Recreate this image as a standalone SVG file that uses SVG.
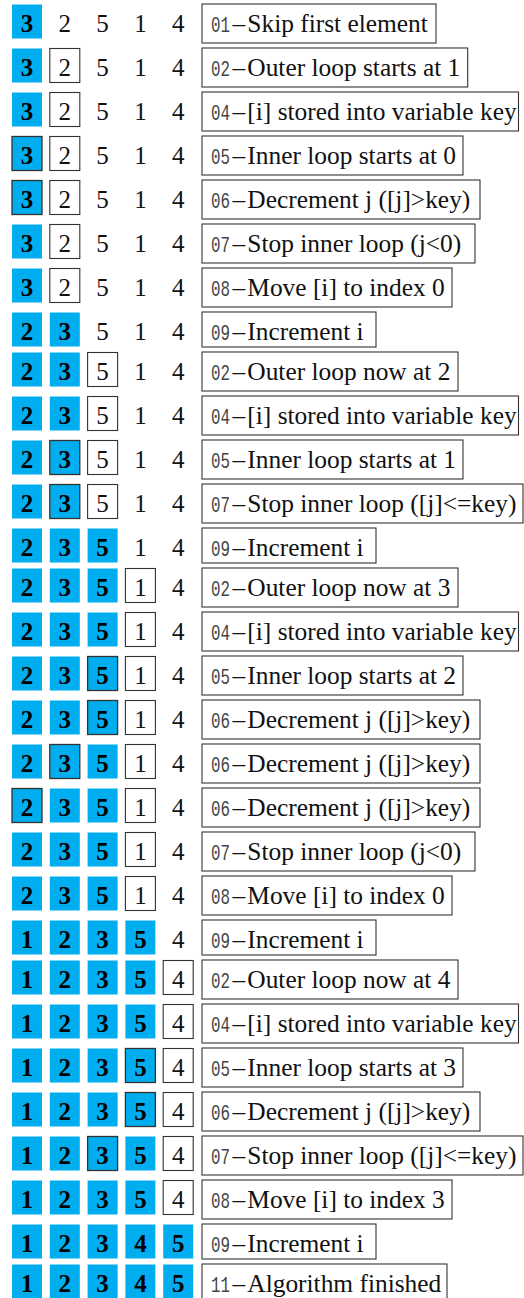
<svg xmlns="http://www.w3.org/2000/svg" width="524" height="1298" viewBox="0 0 524 1298">
  <style>
    .b { fill: #00AEEF; }
    .h { fill: #00AEEF; stroke: #333; stroke-width: 1.3; }
    .w { fill: #fff; stroke: #333; stroke-width: 1.1; }
    .lb { fill: #fff; stroke: #333; stroke-width: 1.1; }
    .d { font-family: "Liberation Serif", "Times New Roman", serif; font-size: 25px; text-anchor: middle; fill: #111; }
    .db { font-family: "Liberation Serif", "Times New Roman", serif; font-size: 25px; font-weight: bold; text-anchor: middle; fill: #000; }
    .lt { font-family: "Liberation Serif", "Times New Roman", serif; font-size: 25.4px; fill: #111; }
    .code { font-family: "Liberation Mono", "Courier New", monospace; font-size: 22px; fill: #444; }
  </style>
  <rect width="524" height="1298" fill="#fff"/>

  <!-- each row: five array cells, then the step label box -->
  <g id="row01" transform="translate(0,4)">
    <rect class="b" x="12" y="0.5" width="30" height="34"/><text class="db" x="27" y="27.5">3</text>
    <text class="d" x="64.8" y="27.5">2</text>
    <text class="d" x="102.6" y="27.5">5</text>
    <text class="d" x="140.4" y="27.5">1</text>
    <text class="d" x="178.2" y="27.5">4</text>
    <rect class="lb" x="202" y="0" width="234" height="39"/>
    <text class="code" transform="translate(211 28) scale(0.72 1)">01</text>
    <text class="lt" x="232.5" y="28">–&#8202;Skip first element</text>
  </g>

  <g id="row02" transform="translate(0,48)">
    <rect class="b" x="12" y="0.5" width="30" height="34"/><text class="db" x="27" y="27.5">3</text>
    <rect class="w" x="49.8" y="0.5" width="30" height="34"/><text class="d" x="64.8" y="27.5">2</text>
    <text class="d" x="102.6" y="27.5">5</text>
    <text class="d" x="140.4" y="27.5">1</text>
    <text class="d" x="178.2" y="27.5">4</text>
    <rect class="lb" x="202" y="0" width="265.7" height="39"/>
    <text class="code" transform="translate(211 28) scale(0.72 1)">02</text>
    <text class="lt" x="232.5" y="28">–&#8202;Outer loop starts at 1</text>
  </g>

  <g id="row03" transform="translate(0,92)">
    <rect class="b" x="12" y="0.5" width="30" height="34"/><text class="db" x="27" y="27.5">3</text>
    <rect class="w" x="49.8" y="0.5" width="30" height="34"/><text class="d" x="64.8" y="27.5">2</text>
    <text class="d" x="102.6" y="27.5">5</text>
    <text class="d" x="140.4" y="27.5">1</text>
    <text class="d" x="178.2" y="27.5">4</text>
    <rect class="lb" x="202" y="0" width="316.5" height="39"/>
    <text class="code" transform="translate(211 28) scale(0.72 1)">04</text>
    <text class="lt" x="232.5" y="28">–&#8202;[i] stored into variable key</text>
  </g>

  <g id="row04" transform="translate(0,136)">
    <rect class="h" x="12" y="0.5" width="30" height="34"/><text class="db" x="27" y="27.5">3</text>
    <rect class="w" x="49.8" y="0.5" width="30" height="34"/><text class="d" x="64.8" y="27.5">2</text>
    <text class="d" x="102.6" y="27.5">5</text>
    <text class="d" x="140.4" y="27.5">1</text>
    <text class="d" x="178.2" y="27.5">4</text>
    <rect class="lb" x="202" y="0" width="261" height="39"/>
    <text class="code" transform="translate(211 28) scale(0.72 1)">05</text>
    <text class="lt" x="232.5" y="28">–&#8202;Inner loop starts at 0</text>
  </g>

  <g id="row05" transform="translate(0,180)">
    <rect class="h" x="12" y="0.5" width="30" height="34"/><text class="db" x="27" y="27.5">3</text>
    <rect class="w" x="49.8" y="0.5" width="30" height="34"/><text class="d" x="64.8" y="27.5">2</text>
    <text class="d" x="102.6" y="27.5">5</text>
    <text class="d" x="140.4" y="27.5">1</text>
    <text class="d" x="178.2" y="27.5">4</text>
    <rect class="lb" x="202" y="0" width="278" height="39"/>
    <text class="code" transform="translate(211 28) scale(0.72 1)">06</text>
    <text class="lt" x="232.5" y="28">–&#8202;Decrement j ([j]&gt;key)</text>
  </g>

  <g id="row06" transform="translate(0,224)">
    <rect class="b" x="12" y="0.5" width="30" height="34"/><text class="db" x="27" y="27.5">3</text>
    <rect class="w" x="49.8" y="0.5" width="30" height="34"/><text class="d" x="64.8" y="27.5">2</text>
    <text class="d" x="102.6" y="27.5">5</text>
    <text class="d" x="140.4" y="27.5">1</text>
    <text class="d" x="178.2" y="27.5">4</text>
    <rect class="lb" x="202" y="0" width="273" height="39"/>
    <text class="code" transform="translate(211 28) scale(0.72 1)">07</text>
    <text class="lt" x="232.5" y="28">–&#8202;Stop inner loop (j&lt;0)</text>
  </g>

  <g id="row07" transform="translate(0,268)">
    <rect class="b" x="12" y="0.5" width="30" height="34"/><text class="db" x="27" y="27.5">3</text>
    <rect class="w" x="49.8" y="0.5" width="30" height="34"/><text class="d" x="64.8" y="27.5">2</text>
    <text class="d" x="102.6" y="27.5">5</text>
    <text class="d" x="140.4" y="27.5">1</text>
    <text class="d" x="178.2" y="27.5">4</text>
    <rect class="lb" x="202" y="0" width="250" height="39"/>
    <text class="code" transform="translate(211 28) scale(0.72 1)">08</text>
    <text class="lt" x="232.5" y="28">–&#8202;Move [i] to index 0</text>
  </g>

  <g id="row08" transform="translate(0,312)">
    <rect class="b" x="12" y="0.5" width="30" height="34"/><text class="db" x="27" y="27.5">2</text>
    <rect class="b" x="49.8" y="0.5" width="30" height="34"/><text class="db" x="64.8" y="27.5">3</text>
    <text class="d" x="102.6" y="27.5">5</text>
    <text class="d" x="140.4" y="27.5">1</text>
    <text class="d" x="178.2" y="27.5">4</text>
    <rect class="lb" x="202" y="0" width="174" height="35"/>
    <text class="code" transform="translate(211 28) scale(0.72 1)">09</text>
    <text class="lt" x="232.5" y="28">–&#8202;Increment i</text>
  </g>

  <g id="row09" transform="translate(0,352)">
    <rect class="b" x="12" y="0.5" width="30" height="34"/><text class="db" x="27" y="27.5">2</text>
    <rect class="b" x="49.8" y="0.5" width="30" height="34"/><text class="db" x="64.8" y="27.5">3</text>
    <rect class="w" x="87.6" y="0.5" width="30" height="34"/><text class="d" x="102.6" y="27.5">5</text>
    <text class="d" x="140.4" y="27.5">1</text>
    <text class="d" x="178.2" y="27.5">4</text>
    <rect class="lb" x="202" y="0" width="256" height="39"/>
    <text class="code" transform="translate(211 28) scale(0.72 1)">02</text>
    <text class="lt" x="232.5" y="28">–&#8202;Outer loop now at 2</text>
  </g>

  <g id="row10" transform="translate(0,396)">
    <rect class="b" x="12" y="0.5" width="30" height="34"/><text class="db" x="27" y="27.5">2</text>
    <rect class="b" x="49.8" y="0.5" width="30" height="34"/><text class="db" x="64.8" y="27.5">3</text>
    <rect class="w" x="87.6" y="0.5" width="30" height="34"/><text class="d" x="102.6" y="27.5">5</text>
    <text class="d" x="140.4" y="27.5">1</text>
    <text class="d" x="178.2" y="27.5">4</text>
    <rect class="lb" x="202" y="0" width="316.5" height="39"/>
    <text class="code" transform="translate(211 28) scale(0.72 1)">04</text>
    <text class="lt" x="232.5" y="28">–&#8202;[i] stored into variable key</text>
  </g>

  <g id="row11" transform="translate(0,440)">
    <rect class="b" x="12" y="0.5" width="30" height="34"/><text class="db" x="27" y="27.5">2</text>
    <rect class="h" x="49.8" y="0.5" width="30" height="34"/><text class="db" x="64.8" y="27.5">3</text>
    <rect class="w" x="87.6" y="0.5" width="30" height="34"/><text class="d" x="102.6" y="27.5">5</text>
    <text class="d" x="140.4" y="27.5">1</text>
    <text class="d" x="178.2" y="27.5">4</text>
    <rect class="lb" x="202" y="0" width="261" height="39"/>
    <text class="code" transform="translate(211 28) scale(0.72 1)">05</text>
    <text class="lt" x="232.5" y="28">–&#8202;Inner loop starts at 1</text>
  </g>

  <g id="row12" transform="translate(0,484)">
    <rect class="b" x="12" y="0.5" width="30" height="34"/><text class="db" x="27" y="27.5">2</text>
    <rect class="h" x="49.8" y="0.5" width="30" height="34"/><text class="db" x="64.8" y="27.5">3</text>
    <rect class="w" x="87.6" y="0.5" width="30" height="34"/><text class="d" x="102.6" y="27.5">5</text>
    <text class="d" x="140.4" y="27.5">1</text>
    <text class="d" x="178.2" y="27.5">4</text>
    <rect class="lb" x="202" y="0" width="321" height="39"/>
    <text class="code" transform="translate(211 28) scale(0.72 1)">07</text>
    <text class="lt" x="232.5" y="28">–&#8202;Stop inner loop ([j]&lt;=key)</text>
  </g>

  <g id="row13" transform="translate(0,528)">
    <rect class="b" x="12" y="0.5" width="30" height="34"/><text class="db" x="27" y="27.5">2</text>
    <rect class="b" x="49.8" y="0.5" width="30" height="34"/><text class="db" x="64.8" y="27.5">3</text>
    <rect class="b" x="87.6" y="0.5" width="30" height="34"/><text class="db" x="102.6" y="27.5">5</text>
    <text class="d" x="140.4" y="27.5">1</text>
    <text class="d" x="178.2" y="27.5">4</text>
    <rect class="lb" x="202" y="0" width="174" height="35"/>
    <text class="code" transform="translate(211 28) scale(0.72 1)">09</text>
    <text class="lt" x="232.5" y="28">–&#8202;Increment i</text>
  </g>

  <g id="row14" transform="translate(0,568)">
    <rect class="b" x="12" y="0.5" width="30" height="34"/><text class="db" x="27" y="27.5">2</text>
    <rect class="b" x="49.8" y="0.5" width="30" height="34"/><text class="db" x="64.8" y="27.5">3</text>
    <rect class="b" x="87.6" y="0.5" width="30" height="34"/><text class="db" x="102.6" y="27.5">5</text>
    <rect class="w" x="125.4" y="0.5" width="30" height="34"/><text class="d" x="140.4" y="27.5">1</text>
    <text class="d" x="178.2" y="27.5">4</text>
    <rect class="lb" x="202" y="0" width="256" height="39"/>
    <text class="code" transform="translate(211 28) scale(0.72 1)">02</text>
    <text class="lt" x="232.5" y="28">–&#8202;Outer loop now at 3</text>
  </g>

  <g id="row15" transform="translate(0,612)">
    <rect class="b" x="12" y="0.5" width="30" height="34"/><text class="db" x="27" y="27.5">2</text>
    <rect class="b" x="49.8" y="0.5" width="30" height="34"/><text class="db" x="64.8" y="27.5">3</text>
    <rect class="b" x="87.6" y="0.5" width="30" height="34"/><text class="db" x="102.6" y="27.5">5</text>
    <rect class="w" x="125.4" y="0.5" width="30" height="34"/><text class="d" x="140.4" y="27.5">1</text>
    <text class="d" x="178.2" y="27.5">4</text>
    <rect class="lb" x="202" y="0" width="316.5" height="39"/>
    <text class="code" transform="translate(211 28) scale(0.72 1)">04</text>
    <text class="lt" x="232.5" y="28">–&#8202;[i] stored into variable key</text>
  </g>

  <g id="row16" transform="translate(0,656)">
    <rect class="b" x="12" y="0.5" width="30" height="34"/><text class="db" x="27" y="27.5">2</text>
    <rect class="b" x="49.8" y="0.5" width="30" height="34"/><text class="db" x="64.8" y="27.5">3</text>
    <rect class="h" x="87.6" y="0.5" width="30" height="34"/><text class="db" x="102.6" y="27.5">5</text>
    <rect class="w" x="125.4" y="0.5" width="30" height="34"/><text class="d" x="140.4" y="27.5">1</text>
    <text class="d" x="178.2" y="27.5">4</text>
    <rect class="lb" x="202" y="0" width="261" height="39"/>
    <text class="code" transform="translate(211 28) scale(0.72 1)">05</text>
    <text class="lt" x="232.5" y="28">–&#8202;Inner loop starts at 2</text>
  </g>

  <g id="row17" transform="translate(0,700)">
    <rect class="b" x="12" y="0.5" width="30" height="34"/><text class="db" x="27" y="27.5">2</text>
    <rect class="b" x="49.8" y="0.5" width="30" height="34"/><text class="db" x="64.8" y="27.5">3</text>
    <rect class="h" x="87.6" y="0.5" width="30" height="34"/><text class="db" x="102.6" y="27.5">5</text>
    <rect class="w" x="125.4" y="0.5" width="30" height="34"/><text class="d" x="140.4" y="27.5">1</text>
    <text class="d" x="178.2" y="27.5">4</text>
    <rect class="lb" x="202" y="0" width="278" height="39"/>
    <text class="code" transform="translate(211 28) scale(0.72 1)">06</text>
    <text class="lt" x="232.5" y="28">–&#8202;Decrement j ([j]&gt;key)</text>
  </g>

  <g id="row18" transform="translate(0,744)">
    <rect class="b" x="12" y="0.5" width="30" height="34"/><text class="db" x="27" y="27.5">2</text>
    <rect class="h" x="49.8" y="0.5" width="30" height="34"/><text class="db" x="64.8" y="27.5">3</text>
    <rect class="b" x="87.6" y="0.5" width="30" height="34"/><text class="db" x="102.6" y="27.5">5</text>
    <rect class="w" x="125.4" y="0.5" width="30" height="34"/><text class="d" x="140.4" y="27.5">1</text>
    <text class="d" x="178.2" y="27.5">4</text>
    <rect class="lb" x="202" y="0" width="278" height="39"/>
    <text class="code" transform="translate(211 28) scale(0.72 1)">06</text>
    <text class="lt" x="232.5" y="28">–&#8202;Decrement j ([j]&gt;key)</text>
  </g>

  <g id="row19" transform="translate(0,788)">
    <rect class="h" x="12" y="0.5" width="30" height="34"/><text class="db" x="27" y="27.5">2</text>
    <rect class="b" x="49.8" y="0.5" width="30" height="34"/><text class="db" x="64.8" y="27.5">3</text>
    <rect class="b" x="87.6" y="0.5" width="30" height="34"/><text class="db" x="102.6" y="27.5">5</text>
    <rect class="w" x="125.4" y="0.5" width="30" height="34"/><text class="d" x="140.4" y="27.5">1</text>
    <text class="d" x="178.2" y="27.5">4</text>
    <rect class="lb" x="202" y="0" width="278" height="39"/>
    <text class="code" transform="translate(211 28) scale(0.72 1)">06</text>
    <text class="lt" x="232.5" y="28">–&#8202;Decrement j ([j]&gt;key)</text>
  </g>

  <g id="row20" transform="translate(0,832)">
    <rect class="b" x="12" y="0.5" width="30" height="34"/><text class="db" x="27" y="27.5">2</text>
    <rect class="b" x="49.8" y="0.5" width="30" height="34"/><text class="db" x="64.8" y="27.5">3</text>
    <rect class="b" x="87.6" y="0.5" width="30" height="34"/><text class="db" x="102.6" y="27.5">5</text>
    <rect class="w" x="125.4" y="0.5" width="30" height="34"/><text class="d" x="140.4" y="27.5">1</text>
    <text class="d" x="178.2" y="27.5">4</text>
    <rect class="lb" x="202" y="0" width="273" height="39"/>
    <text class="code" transform="translate(211 28) scale(0.72 1)">07</text>
    <text class="lt" x="232.5" y="28">–&#8202;Stop inner loop (j&lt;0)</text>
  </g>

  <g id="row21" transform="translate(0,876)">
    <rect class="b" x="12" y="0.5" width="30" height="34"/><text class="db" x="27" y="27.5">2</text>
    <rect class="b" x="49.8" y="0.5" width="30" height="34"/><text class="db" x="64.8" y="27.5">3</text>
    <rect class="b" x="87.6" y="0.5" width="30" height="34"/><text class="db" x="102.6" y="27.5">5</text>
    <rect class="w" x="125.4" y="0.5" width="30" height="34"/><text class="d" x="140.4" y="27.5">1</text>
    <text class="d" x="178.2" y="27.5">4</text>
    <rect class="lb" x="202" y="0" width="250" height="39"/>
    <text class="code" transform="translate(211 28) scale(0.72 1)">08</text>
    <text class="lt" x="232.5" y="28">–&#8202;Move [i] to index 0</text>
  </g>

  <g id="row22" transform="translate(0,920)">
    <rect class="b" x="12" y="0.5" width="30" height="34"/><text class="db" x="27" y="27.5">1</text>
    <rect class="b" x="49.8" y="0.5" width="30" height="34"/><text class="db" x="64.8" y="27.5">2</text>
    <rect class="b" x="87.6" y="0.5" width="30" height="34"/><text class="db" x="102.6" y="27.5">3</text>
    <rect class="b" x="125.4" y="0.5" width="30" height="34"/><text class="db" x="140.4" y="27.5">5</text>
    <text class="d" x="178.2" y="27.5">4</text>
    <rect class="lb" x="202" y="0" width="174" height="35"/>
    <text class="code" transform="translate(211 28) scale(0.72 1)">09</text>
    <text class="lt" x="232.5" y="28">–&#8202;Increment i</text>
  </g>

  <g id="row23" transform="translate(0,960)">
    <rect class="b" x="12" y="0.5" width="30" height="34"/><text class="db" x="27" y="27.5">1</text>
    <rect class="b" x="49.8" y="0.5" width="30" height="34"/><text class="db" x="64.8" y="27.5">2</text>
    <rect class="b" x="87.6" y="0.5" width="30" height="34"/><text class="db" x="102.6" y="27.5">3</text>
    <rect class="b" x="125.4" y="0.5" width="30" height="34"/><text class="db" x="140.4" y="27.5">5</text>
    <rect class="w" x="163.2" y="0.5" width="30" height="34"/><text class="d" x="178.2" y="27.5">4</text>
    <rect class="lb" x="202" y="0" width="256" height="39"/>
    <text class="code" transform="translate(211 28) scale(0.72 1)">02</text>
    <text class="lt" x="232.5" y="28">–&#8202;Outer loop now at 4</text>
  </g>

  <g id="row24" transform="translate(0,1004)">
    <rect class="b" x="12" y="0.5" width="30" height="34"/><text class="db" x="27" y="27.5">1</text>
    <rect class="b" x="49.8" y="0.5" width="30" height="34"/><text class="db" x="64.8" y="27.5">2</text>
    <rect class="b" x="87.6" y="0.5" width="30" height="34"/><text class="db" x="102.6" y="27.5">3</text>
    <rect class="b" x="125.4" y="0.5" width="30" height="34"/><text class="db" x="140.4" y="27.5">5</text>
    <rect class="w" x="163.2" y="0.5" width="30" height="34"/><text class="d" x="178.2" y="27.5">4</text>
    <rect class="lb" x="202" y="0" width="316.5" height="39"/>
    <text class="code" transform="translate(211 28) scale(0.72 1)">04</text>
    <text class="lt" x="232.5" y="28">–&#8202;[i] stored into variable key</text>
  </g>

  <g id="row25" transform="translate(0,1048)">
    <rect class="b" x="12" y="0.5" width="30" height="34"/><text class="db" x="27" y="27.5">1</text>
    <rect class="b" x="49.8" y="0.5" width="30" height="34"/><text class="db" x="64.8" y="27.5">2</text>
    <rect class="b" x="87.6" y="0.5" width="30" height="34"/><text class="db" x="102.6" y="27.5">3</text>
    <rect class="h" x="125.4" y="0.5" width="30" height="34"/><text class="db" x="140.4" y="27.5">5</text>
    <rect class="w" x="163.2" y="0.5" width="30" height="34"/><text class="d" x="178.2" y="27.5">4</text>
    <rect class="lb" x="202" y="0" width="261" height="39"/>
    <text class="code" transform="translate(211 28) scale(0.72 1)">05</text>
    <text class="lt" x="232.5" y="28">–&#8202;Inner loop starts at 3</text>
  </g>

  <g id="row26" transform="translate(0,1092)">
    <rect class="b" x="12" y="0.5" width="30" height="34"/><text class="db" x="27" y="27.5">1</text>
    <rect class="b" x="49.8" y="0.5" width="30" height="34"/><text class="db" x="64.8" y="27.5">2</text>
    <rect class="b" x="87.6" y="0.5" width="30" height="34"/><text class="db" x="102.6" y="27.5">3</text>
    <rect class="h" x="125.4" y="0.5" width="30" height="34"/><text class="db" x="140.4" y="27.5">5</text>
    <rect class="w" x="163.2" y="0.5" width="30" height="34"/><text class="d" x="178.2" y="27.5">4</text>
    <rect class="lb" x="202" y="0" width="278" height="39"/>
    <text class="code" transform="translate(211 28) scale(0.72 1)">06</text>
    <text class="lt" x="232.5" y="28">–&#8202;Decrement j ([j]&gt;key)</text>
  </g>

  <g id="row27" transform="translate(0,1136)">
    <rect class="b" x="12" y="0.5" width="30" height="34"/><text class="db" x="27" y="27.5">1</text>
    <rect class="b" x="49.8" y="0.5" width="30" height="34"/><text class="db" x="64.8" y="27.5">2</text>
    <rect class="h" x="87.6" y="0.5" width="30" height="34"/><text class="db" x="102.6" y="27.5">3</text>
    <rect class="b" x="125.4" y="0.5" width="30" height="34"/><text class="db" x="140.4" y="27.5">5</text>
    <rect class="w" x="163.2" y="0.5" width="30" height="34"/><text class="d" x="178.2" y="27.5">4</text>
    <rect class="lb" x="202" y="0" width="321" height="39"/>
    <text class="code" transform="translate(211 28) scale(0.72 1)">07</text>
    <text class="lt" x="232.5" y="28">–&#8202;Stop inner loop ([j]&lt;=key)</text>
  </g>

  <g id="row28" transform="translate(0,1180)">
    <rect class="b" x="12" y="0.5" width="30" height="34"/><text class="db" x="27" y="27.5">1</text>
    <rect class="b" x="49.8" y="0.5" width="30" height="34"/><text class="db" x="64.8" y="27.5">2</text>
    <rect class="b" x="87.6" y="0.5" width="30" height="34"/><text class="db" x="102.6" y="27.5">3</text>
    <rect class="b" x="125.4" y="0.5" width="30" height="34"/><text class="db" x="140.4" y="27.5">5</text>
    <rect class="w" x="163.2" y="0.5" width="30" height="34"/><text class="d" x="178.2" y="27.5">4</text>
    <rect class="lb" x="202" y="0" width="250" height="39"/>
    <text class="code" transform="translate(211 28) scale(0.72 1)">08</text>
    <text class="lt" x="232.5" y="28">–&#8202;Move [i] to index 3</text>
  </g>

  <g id="row29" transform="translate(0,1224)">
    <rect class="b" x="12" y="0.5" width="30" height="34"/><text class="db" x="27" y="27.5">1</text>
    <rect class="b" x="49.8" y="0.5" width="30" height="34"/><text class="db" x="64.8" y="27.5">2</text>
    <rect class="b" x="87.6" y="0.5" width="30" height="34"/><text class="db" x="102.6" y="27.5">3</text>
    <rect class="b" x="125.4" y="0.5" width="30" height="34"/><text class="db" x="140.4" y="27.5">4</text>
    <rect class="b" x="163.2" y="0.5" width="30" height="34"/><text class="db" x="178.2" y="27.5">5</text>
    <rect class="lb" x="202" y="0" width="174" height="35"/>
    <text class="code" transform="translate(211 28) scale(0.72 1)">09</text>
    <text class="lt" x="232.5" y="28">–&#8202;Increment i</text>
  </g>

  <g id="row30" transform="translate(0,1264)">
    <rect class="b" x="12" y="0.5" width="30" height="34"/><text class="db" x="27" y="27.5">1</text>
    <rect class="b" x="49.8" y="0.5" width="30" height="34"/><text class="db" x="64.8" y="27.5">2</text>
    <rect class="b" x="87.6" y="0.5" width="30" height="34"/><text class="db" x="102.6" y="27.5">3</text>
    <rect class="b" x="125.4" y="0.5" width="30" height="34"/><text class="db" x="140.4" y="27.5">4</text>
    <rect class="b" x="163.2" y="0.5" width="30" height="34"/><text class="db" x="178.2" y="27.5">5</text>
    <rect class="lb" x="202" y="0" width="245" height="39"/>
    <text class="code" transform="translate(211 28) scale(0.72 1)">11</text>
    <text class="lt" x="232.5" y="28">–&#8202;Algorithm finished</text>
  </g>
</svg>
